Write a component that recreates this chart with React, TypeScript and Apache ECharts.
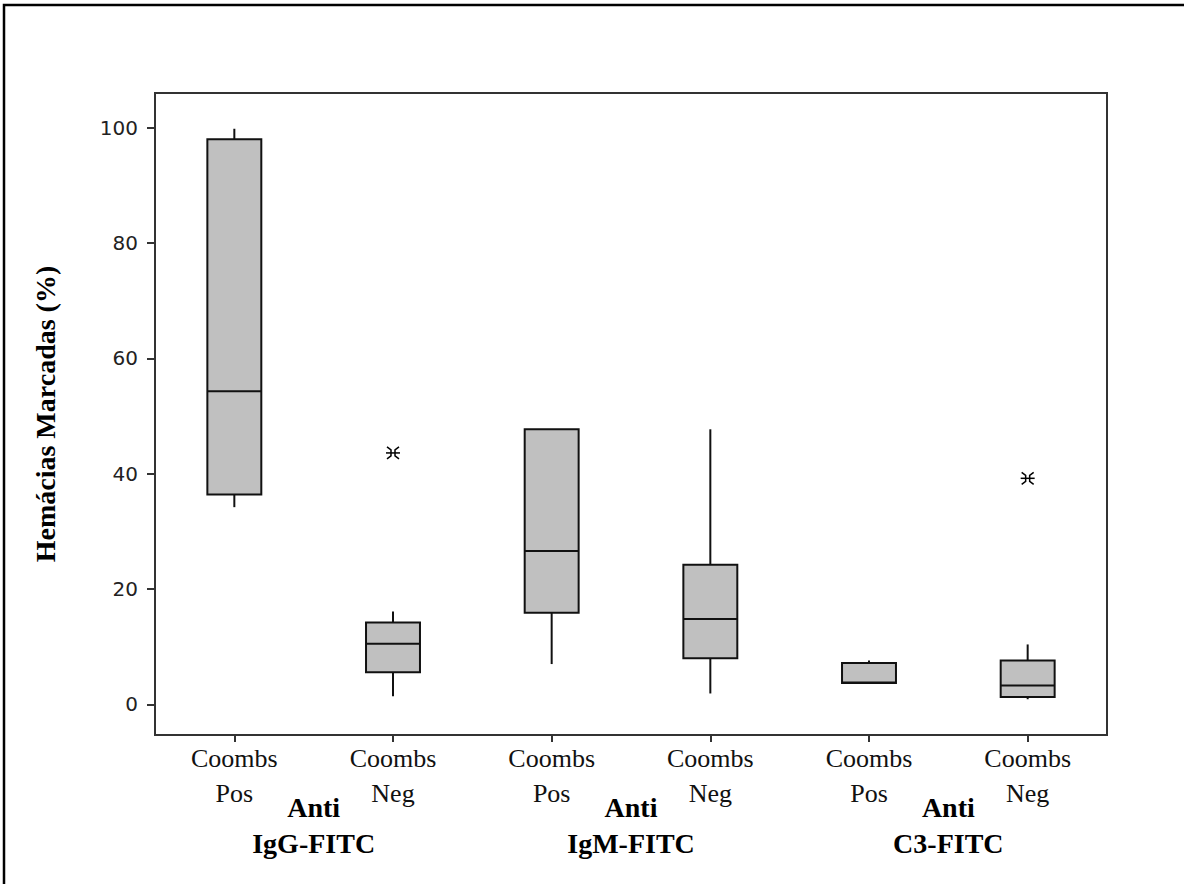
import React, { useEffect, useRef } from "react";
import * as echarts from "echarts";

const categories = ["Coombs\nPos", "Coombs\nNeg", "Coombs\nPos", "Coombs\nNeg", "Coombs\nPos", "Coombs\nNeg"];
const groups = ["Anti\nIgG-FITC", "Anti\nIgM-FITC", "Anti\nC3-FITC"];
const whiskerLow = [34.2, 1.4, 7.0, 1.9, 3.7, 0.9];
const q1 = [36.4, 5.6, 15.9, 8.0, 3.7, 1.3];
const median = [54.3, 10.5, 26.6, 14.8, 3.8, 3.3];
const q3 = [98.0, 14.2, 47.7, 24.2, 7.2, 7.6];
const whiskerHigh = [99.8, 16.1, 47.7, 47.7, 7.6, 10.4];
const outlierIndex = [1, 5];
const outlierValue = [43.6, 39.2];
const yTicks = [0, 20, 40, 60, 80, 100];

export default function App() {
  const ref = useRef<HTMLDivElement>(null);
  useEffect(() => {
    if (!ref.current) return;
    const chart = echarts.init(ref.current, null, { renderer: "svg" });
    const boxData = categories.map((_, i) => [i, whiskerLow[i], q1[i], median[i], q3[i], whiskerHigh[i]]);
    const outData = outlierIndex.map((i, k) => [i, outlierValue[k]]);
    const lineStyle = { stroke: "#111", lineWidth: 2 };
    chart.setOption({
      animation: false,
      backgroundColor: "#fff",
      graphic: [
        {
          type: "polyline",
          shape: { points: [[4, 884], [4, 5], [1184, 5]] },
          style: { fill: "none", stroke: "#000", lineWidth: 2.5 },
          z: 100,
        },
      ],
      grid: {
        left: 155,
        top: 93,
        right: 77,
        bottom: 149,
        show: true,
        borderColor: "#333",
        borderWidth: 2,
        backgroundColor: "transparent",
      },
      xAxis: [
        {
          type: "category",
          data: categories,
          boundaryGap: true,
          axisLine: { show: true, onZero: false, lineStyle: { color: "#333", width: 2 } },
          axisTick: { show: true, alignWithLabel: true, length: 7, lineStyle: { color: "#333", width: 2 } },
          axisLabel: {
            interval: 0,
            margin: 6,
            color: "#111",
            fontFamily: "Liberation Serif",
            fontSize: 26,
            lineHeight: 35,
          },
          splitLine: { show: false },
        },
        {
          type: "category",
          data: groups,
          position: "bottom",
          boundaryGap: true,
          axisLine: { show: false, onZero: false },
          axisTick: { show: false },
          axisLabel: {
            interval: 0,
            margin: 54,
            color: "#000",
            fontFamily: "Liberation Serif",
            fontWeight: "bold",
            fontSize: 28,
            lineHeight: 36,
          },
          splitLine: { show: false },
        },
      ],
      yAxis: {
        type: "value",
        min: -5.3,
        max: 106,
        name: "Hemácias Marcadas (%)",
        nameLocation: "middle",
        nameRotate: 90,
        nameGap: 96,
        nameTextStyle: {
          fontFamily: "Liberation Serif",
          fontWeight: "bold",
          fontSize: 28,
          color: "#000",
        },
        axisLine: { show: true, lineStyle: { color: "#333", width: 2 } },
        axisTick: { show: true, length: 8, customValues: yTicks, lineStyle: { color: "#333", width: 2 } },
        axisLabel: {
          customValues: yTicks,
          margin: 17,
          color: "#222",
          fontFamily: "DejaVu Sans",
          fontSize: 20,
        },
        splitLine: { show: false },
      },
      series: [
        {
          type: "custom",
          xAxisIndex: 0,
          data: boxData,
          renderItem: (params: any, api: any) => {
            const x = api.value(0);
            const pLow = api.coord([x, api.value(1)]);
            const pQ1 = api.coord([x, api.value(2)]);
            const pMed = api.coord([x, api.value(3)]);
            const pQ3 = api.coord([x, api.value(4)]);
            const pHigh = api.coord([x, api.value(5)]);
            const w = api.size([1, 0])[0] * 0.34;
            const cx = pQ1[0];
            return {
              type: "group",
              children: [
                { type: "line", shape: { x1: cx, y1: pLow[1], x2: cx, y2: pQ1[1] }, style: lineStyle },
                { type: "line", shape: { x1: cx, y1: pQ3[1], x2: cx, y2: pHigh[1] }, style: lineStyle },
                {
                  type: "rect",
                  shape: { x: cx - w / 2, y: pQ3[1], width: w, height: pQ1[1] - pQ3[1] },
                  style: { fill: "#c0c0c0", stroke: "#111", lineWidth: 2 },
                },
                { type: "line", shape: { x1: cx - w / 2, y1: pMed[1], x2: cx + w / 2, y2: pMed[1] }, style: lineStyle },
              ],
            };
          },
        },
        {
          type: "custom",
          xAxisIndex: 0,
          data: outData,
          renderItem: (params: any, api: any) => {
            const p = api.coord([api.value(0), api.value(1)]);
            const s = { stroke: "#000", lineWidth: 1.5, fill: "none" };
            const h = 6;
            return {
              type: "group",
              x: p[0],
              y: p[1],
              children: [
                { type: "line", shape: { x1: -h - 1, y1: 0, x2: h + 1, y2: 0 }, style: s },
                { type: "polyline", shape: { points: [[-h, -h], [-2, -3], [-2, 3], [-h, h]] }, style: s },
                { type: "polyline", shape: { points: [[h, -h], [2, -3], [2, 3], [h, h]] }, style: s },
              ],
            };
          },
        },
      ],
    });
    return () => chart.dispose();
  }, []);
  return <div ref={ref} style={{ position: "absolute", left: 0, top: 0, width: 1184, height: 884 }} />;
}
